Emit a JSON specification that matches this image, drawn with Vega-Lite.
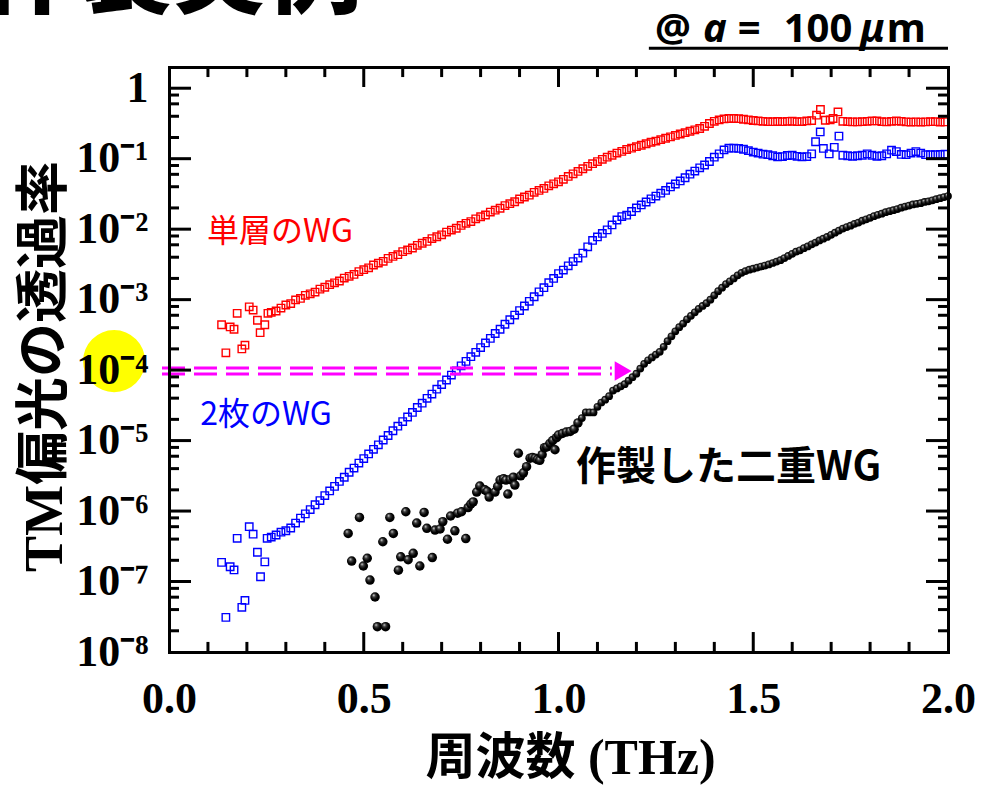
{
  "$schema": "https://vega.github.io/schema/vega-lite/v6.json",
  "width": 779,
  "height": 585,
  "autosize": {"type": "none"},
  "padding": {"left": 169, "top": 67, "right": 34, "bottom": 135},
  "background": "white",
  "config": {"view": {"stroke": null}, "rule": {"color": "black", "strokeWidth": 3}},
  "datasets": {
    "red": [
      {"f":0.135,"t":4.4e-4},{"f":0.146,"t":1.76e-4},{"f":0.157,"t":4.1e-4},{"f":0.167,"t":3.8e-4},{"f":0.175,"t":6.4e-4},{"f":0.187,"t":2.0e-4},{"f":0.195,"t":2.26e-4},{"f":0.206,"t":7.9e-4},{"f":0.216,"t":7.1e-4},{"f":0.227,"t":5.1e-4},{"f":0.234,"t":3.4e-4},{"f":0.246,"t":4.4e-4},{"f":0.254,"t":6.4e-4},
      {"f":0.2625,"t":6.6e-4},{"f":0.275,"t":6.9e-4},{"f":0.2875,"t":7.6e-4},{"f":0.3,"t":8.4e-4},{"f":0.3125,"t":8.8e-4},{"f":0.325,"t":9.9e-4},{"f":0.3375,"t":1.04e-3},{"f":0.35,"t":1.15e-3},{"f":0.3625,"t":1.21e-3},{"f":0.375,"t":1.28e-3},{"f":0.3875,"t":1.41e-3},{"f":0.4,"t":1.50e-3},{"f":0.4125,"t":1.63e-3},{"f":0.425,"t":1.73e-3},{"f":0.4375,"t":1.84e-3},{"f":0.45,"t":2.02e-3},{"f":0.4625,"t":2.14e-3},{"f":0.475,"t":2.28e-3},{"f":0.4875,"t":2.5e-3},{"f":0.5,"t":2.66e-3},{"f":0.5125,"t":2.83e-3},{"f":0.525,"t":3.1e-3},{"f":0.5375,"t":3.3e-3},{"f":0.55,"t":3.5e-3},{"f":0.5625,"t":3.85e-3},{"f":0.575,"t":4.1e-3},{"f":0.5875,"t":4.35e-3},{"f":0.6,"t":4.8e-3},{"f":0.6125,"t":5.08e-3},{"f":0.625,"t":5.4e-3},{"f":0.6375,"t":5.9e-3},{"f":0.65,"t":6.31e-3},{"f":0.6625,"t":6.7e-3},{"f":0.675,"t":7.35e-3},{"f":0.6875,"t":7.8e-3},{"f":0.7,"t":8.3e-3},{"f":0.7125,"t":9.1e-3},{"f":0.725,"t":9.7e-3},{"f":0.7375,"t":1.03e-2},{"f":0.75,"t":1.13e-2},{"f":0.7625,"t":1.21e-2},{"f":0.775,"t":1.28e-2},{"f":0.7875,"t":1.40e-2},{"f":0.8,"t":1.50e-2},{"f":0.8125,"t":1.59e-2},{"f":0.825,"t":1.75e-2},{"f":0.8375,"t":1.86e-2},{"f":0.85,"t":1.98e-2},{"f":0.8625,"t":2.16e-2},{"f":0.875,"t":2.3e-2},{"f":0.8875,"t":2.45e-2},{"f":0.9,"t":2.68e-2},{"f":0.9125,"t":2.86e-2},{"f":0.925,"t":3.04e-2},{"f":0.9375,"t":3.33e-2},{"f":0.95,"t":3.55e-2},{"f":0.9625,"t":3.78e-2},{"f":0.975,"t":4.12e-2},{"f":0.9875,"t":4.4e-2},{"f":1.0,"t":4.7e-2},
      {"f":1.0125,"t":5.1e-2},{"f":1.025,"t":5.6e-2},{"f":1.0375,"t":6.1e-2},{"f":1.05,"t":6.6e-2},{"f":1.0625,"t":7.2e-2},{"f":1.075,"t":7.8e-2},{"f":1.0875,"t":8.5e-2},{"f":1.1,"t":9.1e-2},{"f":1.1125,"t":9.8e-2},{"f":1.125,"t":0.105},{"f":1.1375,"t":0.112},{"f":1.15,"t":0.12},{"f":1.1625,"t":0.127},{"f":1.175,"t":0.135},{"f":1.1875,"t":0.141},{"f":1.2,"t":0.148},{"f":1.2125,"t":0.155},{"f":1.225,"t":0.163},{"f":1.2375,"t":0.171},{"f":1.25,"t":0.178},{"f":1.2625,"t":0.186},{"f":1.275,"t":0.195},{"f":1.2875,"t":0.204},{"f":1.3,"t":0.214},{"f":1.3125,"t":0.224},{"f":1.325,"t":0.234},{"f":1.3375,"t":0.245},{"f":1.35,"t":0.257},{"f":1.3625,"t":0.268},{"f":1.375,"t":0.288},{"f":1.3875,"t":0.316},{"f":1.4,"t":0.339},{"f":1.4125,"t":0.355},{"f":1.425,"t":0.367},{"f":1.4375,"t":0.372},{"f":1.45,"t":0.372},{"f":1.4625,"t":0.37},{"f":1.475,"t":0.363},{"f":1.4875,"t":0.356},{"f":1.5,"t":0.348},{"f":1.5125,"t":0.343},{"f":1.525,"t":0.339},{"f":1.5375,"t":0.335},{"f":1.55,"t":0.335},{"f":1.5625,"t":0.337},{"f":1.575,"t":0.335},{"f":1.5875,"t":0.339},{"f":1.6,"t":0.34},{"f":1.6125,"t":0.335},{"f":1.625,"t":0.336},{"f":1.6375,"t":0.343},{"f":1.65,"t":0.347},{"f":1.6625,"t":0.414},{"f":1.6725,"t":0.499},{"f":1.685,"t":0.351},{"f":1.6975,"t":0.355},{"f":1.705,"t":0.372},{"f":1.7175,"t":0.461},{"f":1.73,"t":0.339},{"f":1.7425,"t":0.335},{"f":1.755,"t":0.333},{"f":1.7675,"t":0.333},{"f":1.78,"t":0.335},{"f":1.7925,"t":0.339},{"f":1.805,"t":0.343},{"f":1.8175,"t":0.343},{"f":1.83,"t":0.335},{"f":1.8425,"t":0.333},{"f":1.855,"t":0.339},{"f":1.8675,"t":0.343},{"f":1.88,"t":0.339},{"f":1.8925,"t":0.333},{"f":1.905,"t":0.331},{"f":1.9175,"t":0.333},{"f":1.93,"t":0.331},{"f":1.9425,"t":0.333},{"f":1.955,"t":0.335},{"f":1.9675,"t":0.335},{"f":1.98,"t":0.331},{"f":1.9925,"t":0.333}
    ],
    "blue": [
      {"f":0.135,"t":1.87e-7},{"f":0.146,"t":3.1e-8},{"f":0.157,"t":1.62e-7},{"f":0.167,"t":1.46e-7},{"f":0.175,"t":4.1e-7},{"f":0.187,"t":4.3e-8},{"f":0.195,"t":5.4e-8},{"f":0.206,"t":6.0e-7},{"f":0.216,"t":4.7e-7},{"f":0.227,"t":2.6e-7},{"f":0.235,"t":1.17e-7},{"f":0.246,"t":1.9e-7},{"f":0.252,"t":4.1e-7},
      {"f":0.2625,"t":4.27e-7},{"f":0.275,"t":4.57e-7},{"f":0.2875,"t":5.01e-7},{"f":0.3,"t":5.25e-7},{"f":0.3125,"t":5.75e-7},{"f":0.325,"t":6.76e-7},{"f":0.3375,"t":7.94e-7},{"f":0.35,"t":9.12e-7},{"f":0.3625,"t":1.05e-6},{"f":0.375,"t":1.23e-6},{"f":0.3875,"t":1.41e-6},{"f":0.4,"t":1.66e-6},{"f":0.4125,"t":1.93e-6},{"f":0.425,"t":2.24e-6},{"f":0.4375,"t":2.63e-6},{"f":0.45,"t":3.02e-6},{"f":0.4625,"t":3.55e-6},{"f":0.475,"t":4.07e-6},{"f":0.4875,"t":4.79e-6},{"f":0.5,"t":5.56e-6},{"f":0.5125,"t":6.46e-6},{"f":0.525,"t":7.52e-6},{"f":0.5375,"t":8.71e-6},{"f":0.55,"t":1.02e-5},{"f":0.5625,"t":1.18e-5},{"f":0.575,"t":1.38e-5},{"f":0.5875,"t":1.60e-5},{"f":0.6,"t":1.86e-5},{"f":0.6125,"t":2.16e-5},{"f":0.625,"t":2.51e-5},{"f":0.6375,"t":2.95e-5},{"f":0.65,"t":3.39e-5},{"f":0.6625,"t":3.98e-5},{"f":0.675,"t":4.57e-5},{"f":0.6875,"t":5.37e-5},{"f":0.7,"t":6.24e-5},{"f":0.7125,"t":7.24e-5},{"f":0.725,"t":8.51e-5},{"f":0.7375,"t":9.77e-5},{"f":0.75,"t":1.15e-4},{"f":0.7625,"t":1.33e-4},{"f":0.775,"t":1.55e-4},{"f":0.7875,"t":1.79e-4},{"f":0.8,"t":2.09e-4},{"f":0.8125,"t":2.43e-4},{"f":0.825,"t":2.82e-4},{"f":0.8375,"t":3.31e-4},{"f":0.85,"t":3.80e-4},{"f":0.8625,"t":4.47e-4},{"f":0.875,"t":5.18e-4},{"f":0.8875,"t":6.03e-4},{"f":0.9,"t":7.0e-4},{"f":0.9125,"t":8.13e-4},{"f":0.925,"t":9.46e-4},{"f":0.9375,"t":1.10e-3},{"f":0.95,"t":1.29e-3},{"f":0.9625,"t":1.48e-3},{"f":0.975,"t":1.74e-3},{"f":0.9875,"t":2.0e-3},{"f":1.0,"t":2.34e-3},
      {"f":1.0125,"t":2.63e-3},{"f":1.025,"t":3.02e-3},{"f":1.0375,"t":3.47e-3},{"f":1.05,"t":3.89e-3},{"f":1.0625,"t":4.57e-3},{"f":1.075,"t":5.62e-3},{"f":1.0875,"t":6.92e-3},{"f":1.1,"t":7.76e-3},{"f":1.1125,"t":8.71e-3},{"f":1.125,"t":9.77e-3},{"f":1.1375,"t":1.15e-2},{"f":1.15,"t":1.35e-2},{"f":1.1625,"t":1.51e-2},{"f":1.175,"t":1.58e-2},{"f":1.1875,"t":1.78e-2},{"f":1.2,"t":2.0e-2},{"f":1.2125,"t":2.21e-2},{"f":1.225,"t":2.43e-2},{"f":1.2375,"t":2.69e-2},{"f":1.25,"t":2.95e-2},{"f":1.2625,"t":3.24e-2},{"f":1.275,"t":3.55e-2},{"f":1.2875,"t":3.98e-2},{"f":1.3,"t":4.37e-2},{"f":1.3125,"t":4.84e-2},{"f":1.325,"t":5.37e-2},{"f":1.3375,"t":6.03e-2},{"f":1.35,"t":6.68e-2},{"f":1.3625,"t":7.41e-2},{"f":1.375,"t":8.13e-2},{"f":1.3875,"t":9.12e-2},{"f":1.4,"t":0.105},{"f":1.4125,"t":0.117},{"f":1.425,"t":0.133},{"f":1.4375,"t":0.141},{"f":1.45,"t":0.141},{"f":1.4625,"t":0.14},{"f":1.475,"t":0.136},{"f":1.4875,"t":0.13},{"f":1.5,"t":0.124},{"f":1.5125,"t":0.12},{"f":1.525,"t":0.116},{"f":1.5375,"t":0.114},{"f":1.55,"t":0.11},{"f":1.5625,"t":0.106},{"f":1.575,"t":0.107},{"f":1.5875,"t":0.111},{"f":1.6,"t":0.112},{"f":1.6125,"t":0.108},{"f":1.625,"t":0.106},{"f":1.6375,"t":0.107},{"f":1.65,"t":0.117},{"f":1.66,"t":0.174},{"f":1.672,"t":0.24},{"f":1.68,"t":0.14},{"f":1.695,"t":0.117},{"f":1.708,"t":0.145},{"f":1.72,"t":0.209},{"f":1.73,"t":0.112},{"f":1.7425,"t":0.11},{"f":1.755,"t":0.108},{"f":1.7675,"t":0.11},{"f":1.78,"t":0.112},{"f":1.7925,"t":0.117},{"f":1.805,"t":0.112},{"f":1.8175,"t":0.108},{"f":1.83,"t":0.11},{"f":1.8425,"t":0.117},{"f":1.855,"t":0.132},{"f":1.8675,"t":0.126},{"f":1.88,"t":0.115},{"f":1.8925,"t":0.114},{"f":1.905,"t":0.12},{"f":1.9175,"t":0.126},{"f":1.93,"t":0.12},{"f":1.9425,"t":0.114},{"f":1.955,"t":0.114},{"f":1.9675,"t":0.114},{"f":1.98,"t":0.115},{"f":1.9925,"t":0.116}
    ],
    "black": [
      {"f":0.46,"t":4.82e-7},{"f":0.469,"t":1.95e-7},{"f":0.489,"t":8.13e-7},{"f":0.499,"t":1.66e-7},{"f":0.509,"t":2.14e-7},{"f":0.516,"t":1.05e-7},{"f":0.529,"t":6.03e-8},{"f":0.535,"t":2.29e-8},{"f":0.549,"t":3.67e-7},{"f":0.556,"t":2.29e-8},{"f":0.567,"t":8.13e-7},{"f":0.576,"t":4.82e-7},{"f":0.589,"t":1.45e-7},{"f":0.595,"t":2.24e-7},{"f":0.608,"t":9.77e-7},{"f":0.614,"t":2.04e-7},{"f":0.627,"t":2.51e-7},{"f":0.636,"t":6.76e-7},{"f":0.644,"t":1.66e-7},{"f":0.655,"t":9.55e-7},{"f":0.662,"t":5.69e-7},{"f":0.676,"t":2.19e-7},{"f":0.683,"t":5.37e-7},{"f":0.696,"t":5.56e-7},{"f":0.703,"t":7.08e-7},{"f":0.715,"t":3.98e-7},{"f":0.723,"t":8.51e-7},{"f":0.734,"t":5.25e-7},{"f":0.741,"t":9.33e-7},{"f":0.751,"t":9.77e-7},{"f":0.762,"t":4.07e-7},{"f":0.768,"t":1.12e-6},{"f":0.775,"t":1.26e-6},{"f":0.781,"t":1.35e-6},{"f":0.79,"t":1.86e-6},{"f":0.798,"t":2.26e-6},{"f":0.811,"t":2.0e-6},{"f":0.817,"t":1.9e-6},{"f":0.822,"t":1.58e-6},{"f":0.837,"t":1.86e-6},{"f":0.844,"t":2.24e-6},{"f":0.85,"t":2.75e-6},{"f":0.859,"t":2.88e-6},{"f":0.865,"t":2.75e-6},{"f":0.87,"t":1.74e-6},{"f":0.876,"t":2.8e-6},{"f":0.884,"t":3.02e-6},{"f":0.888,"t":2.34e-6},{"f":0.897,"t":6.61e-6},{"f":0.903,"t":3.16e-6},{"f":0.91,"t":3.49e-6},{"f":0.918,"t":4.27e-6},{"f":0.927,"t":5.62e-6},{"f":0.933,"t":5.75e-6},{"f":0.94,"t":5.62e-6},{"f":0.946,"t":5.37e-6},{"f":0.952,"t":5.25e-6},{"f":0.958,"t":6.31e-6},{"f":0.964,"t":7.94e-6},{"f":0.97,"t":8.13e-6},{"f":0.978,"t":9.12e-6},{"f":0.985,"t":1.0e-5},{"f":0.991,"t":7.41e-6},{"f":0.995,"t":1.1e-5},{"f":1.0,"t":1.2e-5},
      {"f":1.01,"t":1.26e-5},{"f":1.02,"t":1.32e-5},{"f":1.03,"t":1.35e-5},{"f":1.04,"t":1.45e-5},{"f":1.05,"t":1.78e-5},{"f":1.06,"t":2.09e-5},{"f":1.07,"t":2.51e-5},{"f":1.08,"t":2.51e-5},{"f":1.09,"t":2.51e-5},{"f":1.1,"t":3.02e-5},{"f":1.11,"t":3.47e-5},{"f":1.12,"t":3.8e-5},{"f":1.13,"t":4.27e-5},{"f":1.14,"t":5.13e-5},{"f":1.15,"t":5.5e-5},{"f":1.16,"t":5.89e-5},{"f":1.17,"t":6.31e-5},{"f":1.18,"t":7.08e-5},{"f":1.19,"t":7.94e-5},{"f":1.2,"t":8.91e-5},{"f":1.21,"t":1.05e-4},{"f":1.22,"t":1.23e-4},{"f":1.23,"t":1.38e-4},{"f":1.24,"t":1.51e-4},{"f":1.25,"t":1.66e-4},{"f":1.26,"t":1.82e-4},{"f":1.27,"t":2.14e-4},{"f":1.28,"t":2.57e-4},{"f":1.29,"t":3.02e-4},{"f":1.3,"t":3.55e-4},{"f":1.31,"t":4.07e-4},{"f":1.32,"t":4.57e-4},{"f":1.33,"t":5.25e-4},{"f":1.34,"t":5.89e-4},{"f":1.35,"t":6.61e-4},{"f":1.36,"t":7.41e-4},{"f":1.37,"t":8.13e-4},{"f":1.38,"t":8.91e-4},{"f":1.39,"t":1.0e-3},{"f":1.4,"t":1.15e-3},{"f":1.41,"t":1.32e-3},{"f":1.42,"t":1.48e-3},{"f":1.43,"t":1.66e-3},{"f":1.44,"t":1.82e-3},{"f":1.45,"t":2.0e-3},{"f":1.46,"t":2.21e-3},{"f":1.47,"t":2.4e-3},{"f":1.48,"t":2.54e-3},{"f":1.49,"t":2.66e-3},{"f":1.5,"t":2.75e-3},{"f":1.51,"t":2.85e-3},{"f":1.52,"t":2.95e-3},{"f":1.53,"t":3.05e-3},{"f":1.54,"t":3.16e-3},{"f":1.55,"t":3.31e-3},{"f":1.56,"t":3.47e-3},{"f":1.57,"t":3.63e-3},{"f":1.58,"t":3.89e-3},{"f":1.59,"t":4.17e-3},{"f":1.6,"t":4.47e-3},{"f":1.61,"t":4.79e-3},{"f":1.62,"t":5.01e-3},{"f":1.63,"t":5.37e-3},{"f":1.64,"t":5.69e-3},{"f":1.65,"t":6.1e-3},{"f":1.66,"t":6.46e-3},{"f":1.67,"t":6.92e-3},{"f":1.68,"t":7.33e-3},{"f":1.69,"t":7.76e-3},{"f":1.7,"t":8.32e-3},{"f":1.71,"t":8.91e-3},{"f":1.72,"t":9.55e-3},{"f":1.73,"t":1.02e-2},{"f":1.74,"t":1.07e-2},{"f":1.75,"t":1.12e-2},{"f":1.76,"t":1.19e-2},{"f":1.77,"t":1.24e-2},{"f":1.78,"t":1.32e-2},{"f":1.79,"t":1.38e-2},{"f":1.8,"t":1.45e-2},{"f":1.81,"t":1.53e-2},{"f":1.82,"t":1.6e-2},{"f":1.83,"t":1.66e-2},{"f":1.84,"t":1.74e-2},{"f":1.85,"t":1.8e-2},{"f":1.86,"t":1.86e-2},{"f":1.87,"t":1.93e-2},{"f":1.88,"t":2.02e-2},{"f":1.89,"t":2.09e-2},{"f":1.9,"t":2.16e-2},{"f":1.91,"t":2.24e-2},{"f":1.92,"t":2.29e-2},{"f":1.93,"t":2.34e-2},{"f":1.94,"t":2.43e-2},{"f":1.95,"t":2.48e-2},{"f":1.96,"t":2.57e-2},{"f":1.97,"t":2.66e-2},{"f":1.98,"t":2.75e-2},{"f":1.99,"t":2.85e-2},{"f":2.0,"t":2.95e-2}
    ]
  },
  "resolve": {"axis": {"x": "independent", "y": "independent"}},
  "layer": [
    {
      "data": {"values": [{}]},
      "mark": {"type": "point", "shape": "circle", "filled": true, "color": "#ffff00", "opacity": 1, "size": 3850, "strokeWidth": 0},
      "encoding": {
        "x": {
          "datum": -0.141, "type": "quantitative",
          "scale": {"domain": [0, 2], "nice": false, "zero": false},
          "axis": {
            "orient": "bottom", "zindex": 1,
            "values": [0, 0.5, 1.0, 1.5, 2.0],
            "domain": true, "domainColor": "black", "domainWidth": 3, "domainCap": "square",
            "ticks": false, "grid": false,
            "labelExpr": "format(datum.value, '.1f')",
            "labelFont": "Liberation Serif", "labelFontWeight": "bold", "labelFontSize": 44, "labelColor": "black",
            "labelPadding": 25, "labelFlush": false, "labelOverlap": false, "labelBound": false,
            "title": "周波数 (THz)", "titleFont": "'Liberation Serif', 'Noto Sans CJK JP'", "titleFontSize": 50, "titleFontWeight": "bold", "titleColor": "black",
            "titleX": 401, "titleY": 106, "titleBaseline": "middle", "titleAlign": "center"
          }
        },
        "y": {
          "datum": 1.34e-4, "type": "quantitative",
          "scale": {"type": "log", "domain": [1e-8, 2], "nice": false},
          "axis": {
            "orient": "left", "zindex": 1,
            "values": [1e-8, 1e-7, 1e-6, 1e-5, 1e-4, 1e-3, 1e-2, 1e-1, 1],
            "domain": true, "domainColor": "black", "domainWidth": 3, "domainCap": "square",
            "ticks": false, "grid": false,
            "labelExpr": "datum.value > 0.5 ? '1' : '10⁻' + ['⁰','¹','²','³','⁴','⁵','⁶','⁷','⁸','⁹'][-round(log(datum.value)/LN10)]",
            "labelFont": "Liberation Serif", "labelFontWeight": "bold", "labelFontSize": 44, "labelColor": "black",
            "labelPadding": 21, "labelFlush": false, "labelOverlap": false, "labelBound": false,
            "title": "TM偏光の透過率", "titleFont": "'Liberation Serif', 'Noto Sans CJK JP'", "titleFontSize": 54, "titleFontWeight": "bold", "titleColor": "black",
            "titleX": -124, "titleY": 299, "titleAngle": -90, "titleBaseline": "middle", "titleAlign": "center"
          }
        }
      }
    },
    {
      "data": {"name": "red"},
      "mark": {"type": "point", "shape": "square", "filled": false, "stroke": "#ff0000", "strokeWidth": 1.4, "opacity": 1, "size": 55},
      "encoding": {
        "x": {
          "field": "f", "type": "quantitative",
          "axis": {
            "orient": "top", "zindex": 1, "values": [0, 2],
            "domain": true, "domainColor": "black", "domainWidth": 3, "domainCap": "square",
            "ticks": false, "grid": false, "labels": false, "title": null
          }
        },
        "y": {
          "field": "t", "type": "quantitative",
          "axis": {
            "orient": "right", "zindex": 1, "values": [1e-8, 1],
            "domain": true, "domainColor": "black", "domainWidth": 3, "domainCap": "square",
            "ticks": false, "grid": false, "labels": false, "title": null
          }
        }
      }
    },
    {
      "data": {"name": "blue"},
      "mark": {"type": "point", "shape": "square", "filled": false, "stroke": "#0000ff", "strokeWidth": 1.4, "opacity": 1, "size": 55},
      "encoding": {
        "x": {"field": "f", "type": "quantitative", "axis": null},
        "y": {"field": "t", "type": "quantitative", "axis": null}
      }
    },
    {
      "data": {"name": "black"},
      "transform": [{"filter": "datum.f < 1.06"}],
      "mark": {"type": "point", "shape": "circle", "filled": true, "opacity": 1, "size": 90, "strokeWidth": 0,
        "color": {"gradient": "radial", "x1": 0.35, "y1": 0.3, "r1": 0, "x2": 0.45, "y2": 0.45, "r2": 0.55,
          "stops": [{"offset": 0, "color": "#e8e8e8"}, {"offset": 0.3, "color": "#404040"}, {"offset": 0.7, "color": "#000000"}, {"offset": 1, "color": "#000000"}]}},
      "encoding": {
        "x": {"field": "f", "type": "quantitative", "axis": null},
        "y": {"field": "t", "type": "quantitative", "axis": null}
      }
    },
    {
      "data": {"name": "black"},
      "transform": [{"filter": "datum.f >= 1.06"}],
      "mark": {"type": "point", "shape": "circle", "filled": true, "opacity": 1, "size": 60, "strokeWidth": 0,
        "color": {"gradient": "radial", "x1": 0.35, "y1": 0.3, "r1": 0, "x2": 0.45, "y2": 0.45, "r2": 0.55,
          "stops": [{"offset": 0, "color": "#e8e8e8"}, {"offset": 0.3, "color": "#404040"}, {"offset": 0.7, "color": "#000000"}, {"offset": 1, "color": "#000000"}]}},
      "encoding": {
        "x": {"field": "f", "type": "quantitative", "axis": null},
        "y": {"field": "t", "type": "quantitative", "axis": null}
      }
    },
    {
      "data": {"values": [{}]},
      "mark": {"type": "rule", "color": "#ff00ff", "strokeWidth": 3, "strokeDash": [23, 9]},
      "encoding": {
        "x": {"datum": -0.018, "type": "quantitative", "axis": null},
        "x2": {"datum": 1.137},
        "y": {"datum": 1.067e-4, "type": "quantitative", "axis": null}
      }
    },
    {
      "data": {"values": [{}]},
      "mark": {"type": "rule", "color": "#ff00ff", "strokeWidth": 3, "strokeDash": [23, 9]},
      "encoding": {
        "x": {"datum": -0.018, "type": "quantitative", "axis": null},
        "x2": {"datum": 1.137},
        "y": {"datum": 8.77e-5, "type": "quantitative", "axis": null}
      }
    },
    {
      "data": {"values": [{}]},
      "mark": {"type": "point", "shape": "triangle-right", "filled": true, "color": "#ff00ff", "opacity": 1, "size": 380, "strokeWidth": 0},
      "encoding": {
        "x": {"datum": 1.166, "type": "quantitative", "axis": null},
        "y": {"datum": 9.7e-5, "type": "quantitative", "axis": null}
      }
    },
    {
      "data": {"values": [{}]},
      "mark": {"type": "text", "text": "単層のWG", "font": "Noto Sans CJK JP", "fontSize": 32, "color": "#ff0000", "align": "left", "baseline": "middle"},
      "encoding": {"x": {"datum": 0.0976, "type": "quantitative", "axis": null}, "y": {"datum": 9.06e-3, "type": "quantitative", "axis": null}}
    },
    {
      "data": {"values": [{}]},
      "mark": {"type": "text", "text": "2枚のWG", "font": "Noto Sans CJK JP", "fontSize": 32, "color": "#0000ff", "align": "left", "baseline": "middle"},
      "encoding": {"x": {"datum": 0.08, "type": "quantitative", "axis": null}, "y": {"datum": 2.3e-5, "type": "quantitative", "axis": null}}
    },
    {
      "data": {"values": [{}]},
      "mark": {"type": "text", "text": "作製した二重WG", "font": "Noto Sans CJK JP", "fontWeight": "bold", "fontSize": 40, "color": "black", "align": "left", "baseline": "middle"},
      "encoding": {"x": {"datum": 1.045, "type": "quantitative", "axis": null}, "y": {"datum": 4.07e-6, "type": "quantitative", "axis": null}}
    },
    {
      "data": {"values": [{}]},
      "mark": {"type": "text", "text": "@", "font": "Noto Sans", "fontWeight": "bold", "fontSize": 40, "color": "black", "align": "left", "baseline": "middle"},
      "encoding": {"x": {"datum": 1.248, "type": "quantitative", "axis": null}, "y": {"datum": 6.65, "type": "quantitative", "axis": null}}
    },
    {
      "data": {"values": [{}]},
      "mark": {"type": "text", "text": "a", "font": "Noto Sans", "fontWeight": "bold", "fontStyle": "italic", "fontSize": 40, "color": "black", "align": "left", "baseline": "middle"},
      "encoding": {"x": {"datum": 1.371, "type": "quantitative", "axis": null}, "y": {"datum": 6.65, "type": "quantitative", "axis": null}}
    },
    {
      "data": {"values": [{}]},
      "mark": {"type": "text", "text": "=", "font": "Noto Sans", "fontWeight": "bold", "fontSize": 40, "color": "black", "align": "left", "baseline": "middle"},
      "encoding": {"x": {"datum": 1.46, "type": "quantitative", "axis": null}, "y": {"datum": 6.65, "type": "quantitative", "axis": null}}
    },
    {
      "data": {"values": [{}]},
      "mark": {"type": "text", "text": "100", "font": "Noto Sans", "fontWeight": "bold", "fontSize": 40, "color": "black", "align": "left", "baseline": "middle"},
      "encoding": {"x": {"datum": 1.578, "type": "quantitative", "axis": null}, "y": {"datum": 6.65, "type": "quantitative", "axis": null}}
    },
    {
      "data": {"values": [{}]},
      "mark": {"type": "text", "text": "μ", "font": "Noto Sans", "fontWeight": "bold", "fontStyle": "italic", "fontSize": 40, "color": "black", "align": "left", "baseline": "middle"},
      "encoding": {"x": {"datum": 1.774, "type": "quantitative", "axis": null}, "y": {"datum": 6.65, "type": "quantitative", "axis": null}}
    },
    {
      "data": {"values": [{}]},
      "mark": {"type": "text", "text": "m", "font": "Noto Sans", "fontWeight": "bold", "fontSize": 40, "color": "black", "align": "left", "baseline": "middle"},
      "encoding": {"x": {"datum": 1.843, "type": "quantitative", "axis": null}, "y": {"datum": 6.65, "type": "quantitative", "axis": null}}
    },
    {
      "data": {"values": [{}]},
      "mark": {"type": "rule", "color": "black", "strokeWidth": 3},
      "encoding": {"x": {"datum": 1.232, "type": "quantitative", "axis": null}, "x2": {"datum": 2.0}, "y": {"datum": 3.69, "type": "quantitative", "axis": null}}
    },
    {
      "data": {"values": [{}]},
      "mark": {"type": "text", "text": "作製実例", "font": "Noto Sans CJK JP", "fontWeight": 900, "fontSize": 95, "color": "black", "align": "left", "baseline": "alphabetic"},
      "encoding": {"x": {"datum": -0.48, "type": "quantitative", "axis": null}, "y": {"datum": 14.6, "type": "quantitative", "axis": null}}
    },
    {"data":{"values":[{}]},"mark":"rule","encoding":{"x":{"datum":0.5,"type":"quantitative","axis":null},"y":{"datum":1e-8,"type":"quantitative","axis":null},"y2":{"datum":1.92e-8}}},
    {"data":{"values":[{}]},"mark":"rule","encoding":{"x":{"datum":1.0,"type":"quantitative","axis":null},"y":{"datum":1e-8,"type":"quantitative","axis":null},"y2":{"datum":1.92e-8}}},
    {"data":{"values":[{}]},"mark":"rule","encoding":{"x":{"datum":1.5,"type":"quantitative","axis":null},"y":{"datum":1e-8,"type":"quantitative","axis":null},"y2":{"datum":1.92e-8}}},
    {"data":{"values":[{}]},"mark":"rule","encoding":{"x":{"datum":0.5,"type":"quantitative","axis":null},"y":{"datum":2,"type":"quantitative","axis":null},"y2":{"datum":1.04}}},
    {"data":{"values":[{}]},"mark":"rule","encoding":{"x":{"datum":1.0,"type":"quantitative","axis":null},"y":{"datum":2,"type":"quantitative","axis":null},"y2":{"datum":1.04}}},
    {"data":{"values":[{}]},"mark":"rule","encoding":{"x":{"datum":1.5,"type":"quantitative","axis":null},"y":{"datum":2,"type":"quantitative","axis":null},"y2":{"datum":1.04}}},
    {"data":{"values":[{}]},"mark":"rule","encoding":{"x":{"datum":0.1,"type":"quantitative","axis":null},"y":{"datum":1e-8,"type":"quantitative","axis":null},"y2":{"datum":1.39e-8}}},
    {"data":{"values":[{}]},"mark":"rule","encoding":{"x":{"datum":0.2,"type":"quantitative","axis":null},"y":{"datum":1e-8,"type":"quantitative","axis":null},"y2":{"datum":1.39e-8}}},
    {"data":{"values":[{}]},"mark":"rule","encoding":{"x":{"datum":0.3,"type":"quantitative","axis":null},"y":{"datum":1e-8,"type":"quantitative","axis":null},"y2":{"datum":1.39e-8}}},
    {"data":{"values":[{}]},"mark":"rule","encoding":{"x":{"datum":0.4,"type":"quantitative","axis":null},"y":{"datum":1e-8,"type":"quantitative","axis":null},"y2":{"datum":1.39e-8}}},
    {"data":{"values":[{}]},"mark":"rule","encoding":{"x":{"datum":0.6,"type":"quantitative","axis":null},"y":{"datum":1e-8,"type":"quantitative","axis":null},"y2":{"datum":1.39e-8}}},
    {"data":{"values":[{}]},"mark":"rule","encoding":{"x":{"datum":0.7,"type":"quantitative","axis":null},"y":{"datum":1e-8,"type":"quantitative","axis":null},"y2":{"datum":1.39e-8}}},
    {"data":{"values":[{}]},"mark":"rule","encoding":{"x":{"datum":0.8,"type":"quantitative","axis":null},"y":{"datum":1e-8,"type":"quantitative","axis":null},"y2":{"datum":1.39e-8}}},
    {"data":{"values":[{}]},"mark":"rule","encoding":{"x":{"datum":0.9,"type":"quantitative","axis":null},"y":{"datum":1e-8,"type":"quantitative","axis":null},"y2":{"datum":1.39e-8}}},
    {"data":{"values":[{}]},"mark":"rule","encoding":{"x":{"datum":1.1,"type":"quantitative","axis":null},"y":{"datum":1e-8,"type":"quantitative","axis":null},"y2":{"datum":1.39e-8}}},
    {"data":{"values":[{}]},"mark":"rule","encoding":{"x":{"datum":1.2,"type":"quantitative","axis":null},"y":{"datum":1e-8,"type":"quantitative","axis":null},"y2":{"datum":1.39e-8}}},
    {"data":{"values":[{}]},"mark":"rule","encoding":{"x":{"datum":1.3,"type":"quantitative","axis":null},"y":{"datum":1e-8,"type":"quantitative","axis":null},"y2":{"datum":1.39e-8}}},
    {"data":{"values":[{}]},"mark":"rule","encoding":{"x":{"datum":1.4,"type":"quantitative","axis":null},"y":{"datum":1e-8,"type":"quantitative","axis":null},"y2":{"datum":1.39e-8}}},
    {"data":{"values":[{}]},"mark":"rule","encoding":{"x":{"datum":1.6,"type":"quantitative","axis":null},"y":{"datum":1e-8,"type":"quantitative","axis":null},"y2":{"datum":1.39e-8}}},
    {"data":{"values":[{}]},"mark":"rule","encoding":{"x":{"datum":1.7,"type":"quantitative","axis":null},"y":{"datum":1e-8,"type":"quantitative","axis":null},"y2":{"datum":1.39e-8}}},
    {"data":{"values":[{}]},"mark":"rule","encoding":{"x":{"datum":1.8,"type":"quantitative","axis":null},"y":{"datum":1e-8,"type":"quantitative","axis":null},"y2":{"datum":1.39e-8}}},
    {"data":{"values":[{}]},"mark":"rule","encoding":{"x":{"datum":1.9,"type":"quantitative","axis":null},"y":{"datum":1e-8,"type":"quantitative","axis":null},"y2":{"datum":1.39e-8}}},
    {"data":{"values":[{}]},"mark":"rule","encoding":{"x":{"datum":0.1,"type":"quantitative","axis":null},"y":{"datum":2,"type":"quantitative","axis":null},"y2":{"datum":1.44}}},
    {"data":{"values":[{}]},"mark":"rule","encoding":{"x":{"datum":0.2,"type":"quantitative","axis":null},"y":{"datum":2,"type":"quantitative","axis":null},"y2":{"datum":1.44}}},
    {"data":{"values":[{}]},"mark":"rule","encoding":{"x":{"datum":0.3,"type":"quantitative","axis":null},"y":{"datum":2,"type":"quantitative","axis":null},"y2":{"datum":1.44}}},
    {"data":{"values":[{}]},"mark":"rule","encoding":{"x":{"datum":0.4,"type":"quantitative","axis":null},"y":{"datum":2,"type":"quantitative","axis":null},"y2":{"datum":1.44}}},
    {"data":{"values":[{}]},"mark":"rule","encoding":{"x":{"datum":0.6,"type":"quantitative","axis":null},"y":{"datum":2,"type":"quantitative","axis":null},"y2":{"datum":1.44}}},
    {"data":{"values":[{}]},"mark":"rule","encoding":{"x":{"datum":0.7,"type":"quantitative","axis":null},"y":{"datum":2,"type":"quantitative","axis":null},"y2":{"datum":1.44}}},
    {"data":{"values":[{}]},"mark":"rule","encoding":{"x":{"datum":0.8,"type":"quantitative","axis":null},"y":{"datum":2,"type":"quantitative","axis":null},"y2":{"datum":1.44}}},
    {"data":{"values":[{}]},"mark":"rule","encoding":{"x":{"datum":0.9,"type":"quantitative","axis":null},"y":{"datum":2,"type":"quantitative","axis":null},"y2":{"datum":1.44}}},
    {"data":{"values":[{}]},"mark":"rule","encoding":{"x":{"datum":1.1,"type":"quantitative","axis":null},"y":{"datum":2,"type":"quantitative","axis":null},"y2":{"datum":1.44}}},
    {"data":{"values":[{}]},"mark":"rule","encoding":{"x":{"datum":1.2,"type":"quantitative","axis":null},"y":{"datum":2,"type":"quantitative","axis":null},"y2":{"datum":1.44}}},
    {"data":{"values":[{}]},"mark":"rule","encoding":{"x":{"datum":1.3,"type":"quantitative","axis":null},"y":{"datum":2,"type":"quantitative","axis":null},"y2":{"datum":1.44}}},
    {"data":{"values":[{}]},"mark":"rule","encoding":{"x":{"datum":1.4,"type":"quantitative","axis":null},"y":{"datum":2,"type":"quantitative","axis":null},"y2":{"datum":1.44}}},
    {"data":{"values":[{}]},"mark":"rule","encoding":{"x":{"datum":1.6,"type":"quantitative","axis":null},"y":{"datum":2,"type":"quantitative","axis":null},"y2":{"datum":1.44}}},
    {"data":{"values":[{}]},"mark":"rule","encoding":{"x":{"datum":1.7,"type":"quantitative","axis":null},"y":{"datum":2,"type":"quantitative","axis":null},"y2":{"datum":1.44}}},
    {"data":{"values":[{}]},"mark":"rule","encoding":{"x":{"datum":1.8,"type":"quantitative","axis":null},"y":{"datum":2,"type":"quantitative","axis":null},"y2":{"datum":1.44}}},
    {"data":{"values":[{}]},"mark":"rule","encoding":{"x":{"datum":1.9,"type":"quantitative","axis":null},"y":{"datum":2,"type":"quantitative","axis":null},"y2":{"datum":1.44}}},
    {"data":{"values":[{}]},"mark":"rule","encoding":{"y":{"datum":1e-7,"type":"quantitative","axis":null},"x":{"datum":0,"type":"quantitative","axis":null},"x2":{"datum":0.0565}}},
    {"data":{"values":[{}]},"mark":"rule","encoding":{"y":{"datum":1e-6,"type":"quantitative","axis":null},"x":{"datum":0,"type":"quantitative","axis":null},"x2":{"datum":0.0565}}},
    {"data":{"values":[{}]},"mark":"rule","encoding":{"y":{"datum":1e-5,"type":"quantitative","axis":null},"x":{"datum":0,"type":"quantitative","axis":null},"x2":{"datum":0.0565}}},
    {"data":{"values":[{}]},"mark":"rule","encoding":{"y":{"datum":1e-4,"type":"quantitative","axis":null},"x":{"datum":0,"type":"quantitative","axis":null},"x2":{"datum":0.0565}}},
    {"data":{"values":[{}]},"mark":"rule","encoding":{"y":{"datum":1e-3,"type":"quantitative","axis":null},"x":{"datum":0,"type":"quantitative","axis":null},"x2":{"datum":0.0565}}},
    {"data":{"values":[{}]},"mark":"rule","encoding":{"y":{"datum":1e-2,"type":"quantitative","axis":null},"x":{"datum":0,"type":"quantitative","axis":null},"x2":{"datum":0.0565}}},
    {"data":{"values":[{}]},"mark":"rule","encoding":{"y":{"datum":1e-1,"type":"quantitative","axis":null},"x":{"datum":0,"type":"quantitative","axis":null},"x2":{"datum":0.0565}}},
    {"data":{"values":[{}]},"mark":"rule","encoding":{"y":{"datum":1,"type":"quantitative","axis":null},"x":{"datum":0,"type":"quantitative","axis":null},"x2":{"datum":0.0565}}},
    {"data":{"values":[{}]},"mark":"rule","encoding":{"y":{"datum":1e-7,"type":"quantitative","axis":null},"x":{"datum":2,"type":"quantitative","axis":null},"x2":{"datum":1.9435}}},
    {"data":{"values":[{}]},"mark":"rule","encoding":{"y":{"datum":1e-6,"type":"quantitative","axis":null},"x":{"datum":2,"type":"quantitative","axis":null},"x2":{"datum":1.9435}}},
    {"data":{"values":[{}]},"mark":"rule","encoding":{"y":{"datum":1e-5,"type":"quantitative","axis":null},"x":{"datum":2,"type":"quantitative","axis":null},"x2":{"datum":1.9435}}},
    {"data":{"values":[{}]},"mark":"rule","encoding":{"y":{"datum":1e-4,"type":"quantitative","axis":null},"x":{"datum":2,"type":"quantitative","axis":null},"x2":{"datum":1.9435}}},
    {"data":{"values":[{}]},"mark":"rule","encoding":{"y":{"datum":1e-3,"type":"quantitative","axis":null},"x":{"datum":2,"type":"quantitative","axis":null},"x2":{"datum":1.9435}}},
    {"data":{"values":[{}]},"mark":"rule","encoding":{"y":{"datum":1e-2,"type":"quantitative","axis":null},"x":{"datum":2,"type":"quantitative","axis":null},"x2":{"datum":1.9435}}},
    {"data":{"values":[{}]},"mark":"rule","encoding":{"y":{"datum":1e-1,"type":"quantitative","axis":null},"x":{"datum":2,"type":"quantitative","axis":null},"x2":{"datum":1.9435}}},
    {"data":{"values":[{}]},"mark":"rule","encoding":{"y":{"datum":1,"type":"quantitative","axis":null},"x":{"datum":2,"type":"quantitative","axis":null},"x2":{"datum":1.9435}}},
    {"data":{"values":[{}]},"mark":"rule","encoding":{"y":{"datum":2e-8,"type":"quantitative","axis":null},"x":{"datum":0,"type":"quantitative","axis":null},"x2":{"datum":0.0257}}},
    {"data":{"values":[{}]},"mark":"rule","encoding":{"y":{"datum":4e-8,"type":"quantitative","axis":null},"x":{"datum":0,"type":"quantitative","axis":null},"x2":{"datum":0.0257}}},
    {"data":{"values":[{}]},"mark":"rule","encoding":{"y":{"datum":6e-8,"type":"quantitative","axis":null},"x":{"datum":0,"type":"quantitative","axis":null},"x2":{"datum":0.0257}}},
    {"data":{"values":[{}]},"mark":"rule","encoding":{"y":{"datum":8e-8,"type":"quantitative","axis":null},"x":{"datum":0,"type":"quantitative","axis":null},"x2":{"datum":0.0257}}},
    {"data":{"values":[{}]},"mark":"rule","encoding":{"y":{"datum":2e-7,"type":"quantitative","axis":null},"x":{"datum":0,"type":"quantitative","axis":null},"x2":{"datum":0.0257}}},
    {"data":{"values":[{}]},"mark":"rule","encoding":{"y":{"datum":4e-7,"type":"quantitative","axis":null},"x":{"datum":0,"type":"quantitative","axis":null},"x2":{"datum":0.0257}}},
    {"data":{"values":[{}]},"mark":"rule","encoding":{"y":{"datum":6e-7,"type":"quantitative","axis":null},"x":{"datum":0,"type":"quantitative","axis":null},"x2":{"datum":0.0257}}},
    {"data":{"values":[{}]},"mark":"rule","encoding":{"y":{"datum":8e-7,"type":"quantitative","axis":null},"x":{"datum":0,"type":"quantitative","axis":null},"x2":{"datum":0.0257}}},
    {"data":{"values":[{}]},"mark":"rule","encoding":{"y":{"datum":2e-6,"type":"quantitative","axis":null},"x":{"datum":0,"type":"quantitative","axis":null},"x2":{"datum":0.0257}}},
    {"data":{"values":[{}]},"mark":"rule","encoding":{"y":{"datum":4e-6,"type":"quantitative","axis":null},"x":{"datum":0,"type":"quantitative","axis":null},"x2":{"datum":0.0257}}},
    {"data":{"values":[{}]},"mark":"rule","encoding":{"y":{"datum":6e-6,"type":"quantitative","axis":null},"x":{"datum":0,"type":"quantitative","axis":null},"x2":{"datum":0.0257}}},
    {"data":{"values":[{}]},"mark":"rule","encoding":{"y":{"datum":8e-6,"type":"quantitative","axis":null},"x":{"datum":0,"type":"quantitative","axis":null},"x2":{"datum":0.0257}}},
    {"data":{"values":[{}]},"mark":"rule","encoding":{"y":{"datum":2e-5,"type":"quantitative","axis":null},"x":{"datum":0,"type":"quantitative","axis":null},"x2":{"datum":0.0257}}},
    {"data":{"values":[{}]},"mark":"rule","encoding":{"y":{"datum":4e-5,"type":"quantitative","axis":null},"x":{"datum":0,"type":"quantitative","axis":null},"x2":{"datum":0.0257}}},
    {"data":{"values":[{}]},"mark":"rule","encoding":{"y":{"datum":6e-5,"type":"quantitative","axis":null},"x":{"datum":0,"type":"quantitative","axis":null},"x2":{"datum":0.0257}}},
    {"data":{"values":[{}]},"mark":"rule","encoding":{"y":{"datum":8e-5,"type":"quantitative","axis":null},"x":{"datum":0,"type":"quantitative","axis":null},"x2":{"datum":0.0257}}},
    {"data":{"values":[{}]},"mark":"rule","encoding":{"y":{"datum":2e-4,"type":"quantitative","axis":null},"x":{"datum":0,"type":"quantitative","axis":null},"x2":{"datum":0.0257}}},
    {"data":{"values":[{}]},"mark":"rule","encoding":{"y":{"datum":4e-4,"type":"quantitative","axis":null},"x":{"datum":0,"type":"quantitative","axis":null},"x2":{"datum":0.0257}}},
    {"data":{"values":[{}]},"mark":"rule","encoding":{"y":{"datum":6e-4,"type":"quantitative","axis":null},"x":{"datum":0,"type":"quantitative","axis":null},"x2":{"datum":0.0257}}},
    {"data":{"values":[{}]},"mark":"rule","encoding":{"y":{"datum":8e-4,"type":"quantitative","axis":null},"x":{"datum":0,"type":"quantitative","axis":null},"x2":{"datum":0.0257}}},
    {"data":{"values":[{}]},"mark":"rule","encoding":{"y":{"datum":2e-3,"type":"quantitative","axis":null},"x":{"datum":0,"type":"quantitative","axis":null},"x2":{"datum":0.0257}}},
    {"data":{"values":[{}]},"mark":"rule","encoding":{"y":{"datum":4e-3,"type":"quantitative","axis":null},"x":{"datum":0,"type":"quantitative","axis":null},"x2":{"datum":0.0257}}},
    {"data":{"values":[{}]},"mark":"rule","encoding":{"y":{"datum":6e-3,"type":"quantitative","axis":null},"x":{"datum":0,"type":"quantitative","axis":null},"x2":{"datum":0.0257}}},
    {"data":{"values":[{}]},"mark":"rule","encoding":{"y":{"datum":8e-3,"type":"quantitative","axis":null},"x":{"datum":0,"type":"quantitative","axis":null},"x2":{"datum":0.0257}}},
    {"data":{"values":[{}]},"mark":"rule","encoding":{"y":{"datum":2e-2,"type":"quantitative","axis":null},"x":{"datum":0,"type":"quantitative","axis":null},"x2":{"datum":0.0257}}},
    {"data":{"values":[{}]},"mark":"rule","encoding":{"y":{"datum":4e-2,"type":"quantitative","axis":null},"x":{"datum":0,"type":"quantitative","axis":null},"x2":{"datum":0.0257}}},
    {"data":{"values":[{}]},"mark":"rule","encoding":{"y":{"datum":6e-2,"type":"quantitative","axis":null},"x":{"datum":0,"type":"quantitative","axis":null},"x2":{"datum":0.0257}}},
    {"data":{"values":[{}]},"mark":"rule","encoding":{"y":{"datum":8e-2,"type":"quantitative","axis":null},"x":{"datum":0,"type":"quantitative","axis":null},"x2":{"datum":0.0257}}},
    {"data":{"values":[{}]},"mark":"rule","encoding":{"y":{"datum":0.2,"type":"quantitative","axis":null},"x":{"datum":0,"type":"quantitative","axis":null},"x2":{"datum":0.0257}}},
    {"data":{"values":[{}]},"mark":"rule","encoding":{"y":{"datum":0.4,"type":"quantitative","axis":null},"x":{"datum":0,"type":"quantitative","axis":null},"x2":{"datum":0.0257}}},
    {"data":{"values":[{}]},"mark":"rule","encoding":{"y":{"datum":0.6,"type":"quantitative","axis":null},"x":{"datum":0,"type":"quantitative","axis":null},"x2":{"datum":0.0257}}},
    {"data":{"values":[{}]},"mark":"rule","encoding":{"y":{"datum":0.8,"type":"quantitative","axis":null},"x":{"datum":0,"type":"quantitative","axis":null},"x2":{"datum":0.0257}}},
    {"data":{"values":[{}]},"mark":"rule","encoding":{"y":{"datum":2e-8,"type":"quantitative","axis":null},"x":{"datum":2,"type":"quantitative","axis":null},"x2":{"datum":1.9743}}},
    {"data":{"values":[{}]},"mark":"rule","encoding":{"y":{"datum":4e-8,"type":"quantitative","axis":null},"x":{"datum":2,"type":"quantitative","axis":null},"x2":{"datum":1.9743}}},
    {"data":{"values":[{}]},"mark":"rule","encoding":{"y":{"datum":6e-8,"type":"quantitative","axis":null},"x":{"datum":2,"type":"quantitative","axis":null},"x2":{"datum":1.9743}}},
    {"data":{"values":[{}]},"mark":"rule","encoding":{"y":{"datum":8e-8,"type":"quantitative","axis":null},"x":{"datum":2,"type":"quantitative","axis":null},"x2":{"datum":1.9743}}},
    {"data":{"values":[{}]},"mark":"rule","encoding":{"y":{"datum":2e-7,"type":"quantitative","axis":null},"x":{"datum":2,"type":"quantitative","axis":null},"x2":{"datum":1.9743}}},
    {"data":{"values":[{}]},"mark":"rule","encoding":{"y":{"datum":4e-7,"type":"quantitative","axis":null},"x":{"datum":2,"type":"quantitative","axis":null},"x2":{"datum":1.9743}}},
    {"data":{"values":[{}]},"mark":"rule","encoding":{"y":{"datum":6e-7,"type":"quantitative","axis":null},"x":{"datum":2,"type":"quantitative","axis":null},"x2":{"datum":1.9743}}},
    {"data":{"values":[{}]},"mark":"rule","encoding":{"y":{"datum":8e-7,"type":"quantitative","axis":null},"x":{"datum":2,"type":"quantitative","axis":null},"x2":{"datum":1.9743}}},
    {"data":{"values":[{}]},"mark":"rule","encoding":{"y":{"datum":2e-6,"type":"quantitative","axis":null},"x":{"datum":2,"type":"quantitative","axis":null},"x2":{"datum":1.9743}}},
    {"data":{"values":[{}]},"mark":"rule","encoding":{"y":{"datum":4e-6,"type":"quantitative","axis":null},"x":{"datum":2,"type":"quantitative","axis":null},"x2":{"datum":1.9743}}},
    {"data":{"values":[{}]},"mark":"rule","encoding":{"y":{"datum":6e-6,"type":"quantitative","axis":null},"x":{"datum":2,"type":"quantitative","axis":null},"x2":{"datum":1.9743}}},
    {"data":{"values":[{}]},"mark":"rule","encoding":{"y":{"datum":8e-6,"type":"quantitative","axis":null},"x":{"datum":2,"type":"quantitative","axis":null},"x2":{"datum":1.9743}}},
    {"data":{"values":[{}]},"mark":"rule","encoding":{"y":{"datum":2e-5,"type":"quantitative","axis":null},"x":{"datum":2,"type":"quantitative","axis":null},"x2":{"datum":1.9743}}},
    {"data":{"values":[{}]},"mark":"rule","encoding":{"y":{"datum":4e-5,"type":"quantitative","axis":null},"x":{"datum":2,"type":"quantitative","axis":null},"x2":{"datum":1.9743}}},
    {"data":{"values":[{}]},"mark":"rule","encoding":{"y":{"datum":6e-5,"type":"quantitative","axis":null},"x":{"datum":2,"type":"quantitative","axis":null},"x2":{"datum":1.9743}}},
    {"data":{"values":[{}]},"mark":"rule","encoding":{"y":{"datum":8e-5,"type":"quantitative","axis":null},"x":{"datum":2,"type":"quantitative","axis":null},"x2":{"datum":1.9743}}},
    {"data":{"values":[{}]},"mark":"rule","encoding":{"y":{"datum":2e-4,"type":"quantitative","axis":null},"x":{"datum":2,"type":"quantitative","axis":null},"x2":{"datum":1.9743}}},
    {"data":{"values":[{}]},"mark":"rule","encoding":{"y":{"datum":4e-4,"type":"quantitative","axis":null},"x":{"datum":2,"type":"quantitative","axis":null},"x2":{"datum":1.9743}}},
    {"data":{"values":[{}]},"mark":"rule","encoding":{"y":{"datum":6e-4,"type":"quantitative","axis":null},"x":{"datum":2,"type":"quantitative","axis":null},"x2":{"datum":1.9743}}},
    {"data":{"values":[{}]},"mark":"rule","encoding":{"y":{"datum":8e-4,"type":"quantitative","axis":null},"x":{"datum":2,"type":"quantitative","axis":null},"x2":{"datum":1.9743}}},
    {"data":{"values":[{}]},"mark":"rule","encoding":{"y":{"datum":2e-3,"type":"quantitative","axis":null},"x":{"datum":2,"type":"quantitative","axis":null},"x2":{"datum":1.9743}}},
    {"data":{"values":[{}]},"mark":"rule","encoding":{"y":{"datum":4e-3,"type":"quantitative","axis":null},"x":{"datum":2,"type":"quantitative","axis":null},"x2":{"datum":1.9743}}},
    {"data":{"values":[{}]},"mark":"rule","encoding":{"y":{"datum":6e-3,"type":"quantitative","axis":null},"x":{"datum":2,"type":"quantitative","axis":null},"x2":{"datum":1.9743}}},
    {"data":{"values":[{}]},"mark":"rule","encoding":{"y":{"datum":8e-3,"type":"quantitative","axis":null},"x":{"datum":2,"type":"quantitative","axis":null},"x2":{"datum":1.9743}}},
    {"data":{"values":[{}]},"mark":"rule","encoding":{"y":{"datum":2e-2,"type":"quantitative","axis":null},"x":{"datum":2,"type":"quantitative","axis":null},"x2":{"datum":1.9743}}},
    {"data":{"values":[{}]},"mark":"rule","encoding":{"y":{"datum":4e-2,"type":"quantitative","axis":null},"x":{"datum":2,"type":"quantitative","axis":null},"x2":{"datum":1.9743}}},
    {"data":{"values":[{}]},"mark":"rule","encoding":{"y":{"datum":6e-2,"type":"quantitative","axis":null},"x":{"datum":2,"type":"quantitative","axis":null},"x2":{"datum":1.9743}}},
    {"data":{"values":[{}]},"mark":"rule","encoding":{"y":{"datum":8e-2,"type":"quantitative","axis":null},"x":{"datum":2,"type":"quantitative","axis":null},"x2":{"datum":1.9743}}},
    {"data":{"values":[{}]},"mark":"rule","encoding":{"y":{"datum":0.2,"type":"quantitative","axis":null},"x":{"datum":2,"type":"quantitative","axis":null},"x2":{"datum":1.9743}}},
    {"data":{"values":[{}]},"mark":"rule","encoding":{"y":{"datum":0.4,"type":"quantitative","axis":null},"x":{"datum":2,"type":"quantitative","axis":null},"x2":{"datum":1.9743}}},
    {"data":{"values":[{}]},"mark":"rule","encoding":{"y":{"datum":0.6,"type":"quantitative","axis":null},"x":{"datum":2,"type":"quantitative","axis":null},"x2":{"datum":1.9743}}},
    {"data":{"values":[{}]},"mark":"rule","encoding":{"y":{"datum":0.8,"type":"quantitative","axis":null},"x":{"datum":2,"type":"quantitative","axis":null},"x2":{"datum":1.9743}}}
  ]
}
